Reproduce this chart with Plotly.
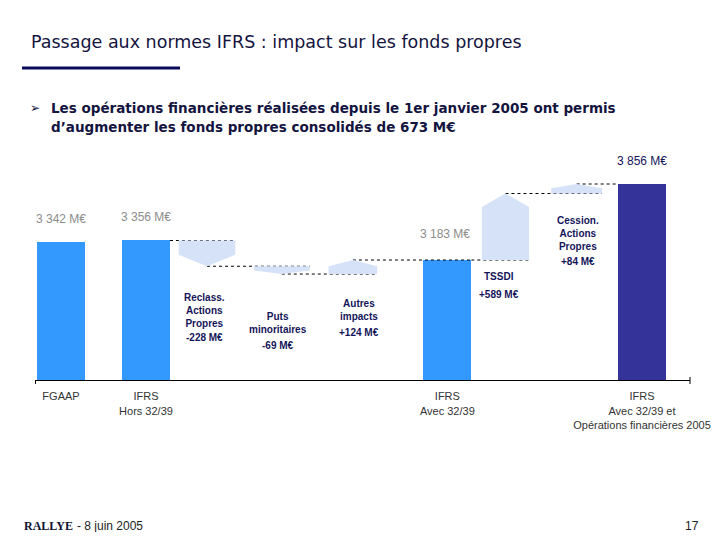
import plotly.graph_objects as go

# ---------------- data ----------------
categories = ["FGAAP", "IFRS Hors 32/39", "Reclass. Actions Propres", "Puts minoritaires",
              "Autres impacts", "IFRS Avec 32/39", "TSSDI", "Cession. Actions Propres",
              "IFRS Avec 32/39 et Opérations financières 2005"]
step_kind = ["total", "total", "delta", "delta", "delta", "total", "delta", "delta", "total"]
step_value = [3342, 3356, -228, -69, 124, 3183, 589, 84, 3856]
total_tick_labels = ["FGAAP", "IFRS<br>Hors 32/39", "IFRS<br>Avec 32/39",
                     "IFRS<br>Avec 32/39 et<br>Opérations financières 2005"]
delta_names = ["Reclass.<br>Actions<br>Propres", "Puts<br>minoritaires", "Autres<br>impacts",
               "TSSDI", "Cession.<br>Actions<br>Propres"]

# ---------------- layout / style ----------------
OFF = 8                 # page body margin of the browser
W, H = 720 - 2 * OFF, 540 - 2 * OFF
slot_pos = [0, 1.17, 2.01, 3.04, 4.02, 5.32, 6.12, 7.10, 8.0]
slot_width = [0.66, 0.66, 0.78, 0.77, 0.67, 0.66, 0.65, 0.70, 0.66]
x_range = [-0.358, 8.661]
y_range = [2121, 4157]
plot_px = dict(left=35, right=690, top=150, bottom=380)

c_total = "#3399FF"
c_final = "#333399"
c_float = "#D6E2F8"
c_navy = "#15155A"
c_gray = "#8C8C8C"

name_shift = [-24, -35, -22, -9, -20]
value_shift = [-71, -71, -58, -34, -68]
label_xshift = [-2, -4, 6, -6, 1]


def px(x):
    return (x - OFF) / W


def py(y):
    return 1 - (y - OFF) / H


fig = go.Figure()

levels = []
lvl = 0
for k, v in zip(step_kind, step_value):
    if k == "total":
        levels.append((v, v))
        lvl = v
    else:
        levels.append((lvl, lvl + v))
        lvl = lvl + v

n = len(step_value)
for i in range(n - 1):
    if step_kind[i] == "total" and step_kind[i + 1] == "total":
        continue
    level = levels[i][1]
    if step_kind[i] == "total":
        x0 = slot_pos[i] + slot_width[i] / 2
    else:
        x0 = slot_pos[i]
    if i + 1 == n - 1:
        x1 = slot_pos[i + 1] - slot_width[i + 1] / 2
    else:
        x1 = slot_pos[i + 1] + slot_width[i + 1] / 2
    fig.add_trace(go.Scatter(x=[x0, x1], y=[level, level], mode="lines",
                             line=dict(color="black", width=1, dash="dot"),
                             hoverinfo="skip", showlegend=False))

tot_idx = [i for i, k in enumerate(step_kind) if k == "total"]
fig.add_trace(go.Bar(
    x=[slot_pos[i] for i in tot_idx],
    y=[step_value[i] for i in tot_idx],
    width=[slot_width[i] for i in tot_idx],
    marker=dict(color=[c_final if i == n - 1 else c_total for i in tot_idx], line=dict(width=0)),
    showlegend=False, hoverinfo="skip"))

for i, k in enumerate(step_kind):
    if k != "delta":
        continue
    s, e = levels[i]
    d = e - s
    tip = min(0.45 * abs(d), 120)
    xl = slot_pos[i] - slot_width[i] / 2
    xr = slot_pos[i] + slot_width[i] / 2
    xc = slot_pos[i]
    sgn = 1 if d < 0 else -1
    xs = [xl, xr, xr, xc, xl, xl]
    ys = [s, s, e + sgn * tip, e, e + sgn * tip, s]
    fig.add_trace(go.Scatter(x=xs, y=ys, mode="lines", fill="toself",
                             fillcolor=c_float, line=dict(width=0, color=c_float),
                             hoverinfo="skip", showlegend=False))

annotations = []
for i in tot_idx:
    v = step_value[i]
    txt = f"{v:,}".replace(",", " ") + " M€"
    annotations.append(dict(x=slot_pos[i], y=v, xref="x", yref="y", text=txt, showarrow=False,
                            yanchor="middle", yshift=23 if i != 5 else 26,
                            xshift=-2 if i == 5 else 0,
                            font=dict(family="Liberation Sans", size=12,
                                      color=c_navy if i == n - 1 else c_gray)))
di = 0
for i, k in enumerate(step_kind):
    if k != "delta":
        continue
    bottom = min(levels[i])
    annotations.append(dict(x=slot_pos[i], y=bottom, xref="x", yref="y",
                            text="<b>" + delta_names[di] + "</b>", showarrow=False,
                            yanchor="top", yshift=name_shift[di], xshift=label_xshift[di],
                            font=dict(family="Liberation Sans", size=10, color=c_navy)))
    annotations.append(dict(x=slot_pos[i], y=bottom, xref="x", yref="y",
                            text="<b>" + f"{step_value[i]:+d} M€" + "</b>", showarrow=False,
                            yanchor="middle", yshift=value_shift[di], xshift=label_xshift[di],
                            font=dict(family="Liberation Sans", size=10, color=c_navy)))
    di += 1

annotations += [
    dict(x=px(29), y=py(42), xref="paper", yref="paper", xanchor="left", yanchor="middle",
         text="Passage aux normes IFRS : impact sur les fonds propres", showarrow=False,
         font=dict(family="DejaVu Sans", size=17.5, color="#141440")),
    dict(x=px(28), y=py(108), xref="paper", yref="paper", xanchor="left", yanchor="middle",
         text="➢", showarrow=False, font=dict(family="DejaVu Sans", size=12, color="#141440")),
    dict(x=px(49), y=py(108), xref="paper", yref="paper", xanchor="left", yanchor="middle",
         text="<b>Les opérations financières réalisées depuis le 1er janvier 2005 ont permis</b>",
         showarrow=False, font=dict(family="DejaVu Sans", size=13.5, color="#141440")),
    dict(x=px(49), y=py(127), xref="paper", yref="paper", xanchor="left", yanchor="middle",
         text="<b>d’augmenter les fonds propres consolidés de 673 M€</b>",
         showarrow=False, font=dict(family="DejaVu Sans", size=13.5, color="#141440")),
    dict(x=px(22), y=py(526), xref="paper", yref="paper", xanchor="left", yanchor="middle",
         text="<b>RALLYE</b>", showarrow=False,
         font=dict(family="Liberation Serif", size=12, color="#111133")),
    dict(x=px(75), y=py(526), xref="paper", yref="paper", xanchor="left", yanchor="middle",
         text="- 8 juin 2005", showarrow=False,
         font=dict(family="Liberation Sans", size=12, color="#222222")),
    dict(x=px(701), y=py(526), xref="paper", yref="paper", xanchor="right", yanchor="middle",
         text="17", showarrow=False,
         font=dict(family="Liberation Sans", size=12, color="#222222")),
]

shapes = [
    dict(type="rect", xref="paper", yref="paper", x0=px(22), x1=px(180), y0=py(69.5), y1=py(66.5),
         fillcolor="#0B0B5C", line=dict(width=0)),
    dict(type="line", xref="paper", yref="paper", x0=px(35.5), x1=px(35.5), y0=py(380), y1=py(384),
         line=dict(color="black", width=1)),
    dict(type="line", xref="paper", yref="paper", x0=px(690), x1=px(690), y0=py(377), y1=py(384),
         line=dict(color="black", width=1)),
]

fig.update_layout(
    width=W, height=H,
    margin=dict(l=0, r=0, t=0, b=0, autoexpand=False),
    paper_bgcolor="white", plot_bgcolor="white",
    showlegend=False,
    annotations=annotations, shapes=shapes,
    bargap=0,
    xaxis=dict(domain=[px(plot_px["left"]), px(plot_px["right"])], range=x_range,
               automargin=False,
               showgrid=False, zeroline=False, showline=True, linecolor="black", linewidth=1,
               tickvals=[slot_pos[i] for i in tot_idx], ticktext=total_tick_labels,
               ticks="", ticklabelstandoff=6,
               tickfont=dict(family="Liberation Sans", size=11, color="#333333"),
               fixedrange=True),
    yaxis=dict(domain=[py(plot_px["bottom"]), py(plot_px["top"])], range=y_range,
               automargin=False,
               showgrid=False, zeroline=False, showline=False, showticklabels=False,
               fixedrange=True),
)

fig.write_html("out.html")
